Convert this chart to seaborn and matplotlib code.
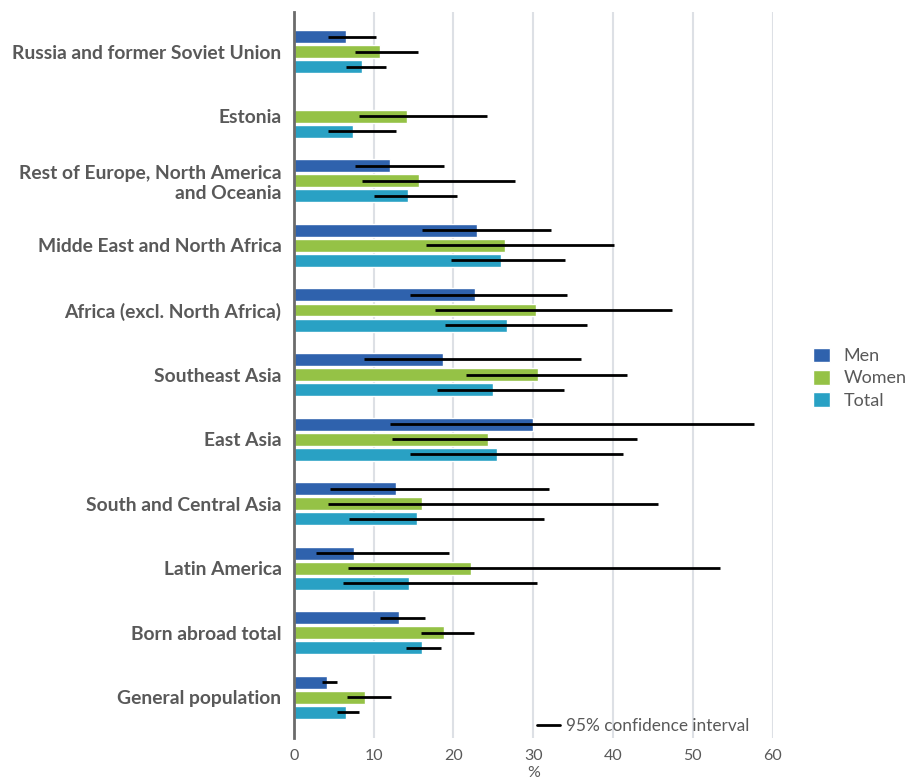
import numpy as np
import pandas as pd
import seaborn as sns
import matplotlib
matplotlib.use("Agg")
import matplotlib.pyplot as plt
from matplotlib.lines import Line2D

# Regions of birth (top to bottom)
regions = [
    "Russia and former Soviet Union",
    "Estonia",
    "Rest of Europe, North America\nand Oceania",
    "Midde East and North Africa",
    "Africa (excl. North Africa)",
    "Southeast Asia",
    "East Asia",
    "South and Central Asia",
    "Latin America",
    "Born abroad total",
    "General population",
]

series = ["Men", "Women", "Total"]

# Share (%) per group
men   = [6.5, np.nan, 12.0, 22.9, 22.7, 18.7, 30.0, 12.8, 7.5, 13.2, 4.1]
women = [10.8, 14.2, 15.7, 26.5, 30.4, 30.6, 24.3, 16.0, 22.2, 18.8, 8.9]
total = [8.5, 7.4, 14.3, 26.0, 26.7, 24.9, 25.4, 15.4, 14.4, 16.0, 6.5]

# 95% confidence interval bounds
men_lo   = [4.3, np.nan, 7.6, 16.0, 14.5, 8.8, 12.1, 4.5, 2.8, 10.8, 3.5]
men_hi   = [10.3, np.nan, 18.8, 32.2, 34.2, 36.0, 57.7, 32.0, 19.5, 16.4, 5.4]
women_lo = [7.6, 8.2, 8.5, 16.5, 17.7, 21.6, 12.3, 4.3, 6.8, 15.9, 6.7]
women_hi = [15.6, 24.2, 27.7, 40.1, 47.4, 41.8, 43.0, 45.6, 53.4, 22.6, 12.2]
total_lo = [6.5, 4.3, 10.0, 19.7, 18.9, 17.9, 14.5, 6.9, 6.2, 14.1, 5.4]
total_hi = [11.6, 12.8, 20.5, 34.0, 36.7, 33.9, 41.2, 31.3, 30.5, 18.4, 8.2]

values = {"Men": men, "Women": women, "Total": total}
lows = {"Men": men_lo, "Women": women_lo, "Total": total_lo}
highs = {"Men": men_hi, "Women": women_hi, "Total": total_hi}

colors = ["#2F62AD", "#95C246", "#29A1C4"]
text_gray = "#595959"

rows = []
for s in series:
    for r, v in zip(regions, values[s]):
        rows.append({"region": r, "group": s, "pct": v})
df = pd.DataFrame(rows)

sns.set_theme(style="white")
plt.rcParams["font.family"] = ["Lato", "DejaVu Sans"]

fig = plt.figure(figsize=(9.10, 7.81), dpi=100)
ax = fig.add_axes([0.323, 0.055, 0.526, 0.930])

sns.barplot(
    data=df, y="region", x="pct", hue="group", order=regions,
    hue_order=series, palette=colors, orient="h", width=0.7, gap=0.14,
    errorbar=None, ax=ax, legend=True, saturation=1,
)

# Confidence interval lines through the middle of each bar; the category
# index comes from the bar's own position (missing bars are not drawn)
for s, cont in zip(series, ax.containers):
    for patch in cont.patches:
        yc = patch.get_y() + patch.get_height() / 2
        i = int(round(yc))
        lo, hi = lows[s][i], highs[s][i]
        if np.isnan(lo):
            continue
        ax.hlines(yc, lo, hi, color="black", lw=2.0, zorder=4)

ax.set_xlim(0, 60)
ax.set_ylim(10.63, -0.62)
ax.set_xticks(range(0, 61, 10))
ax.xaxis.grid(True, color="#DDE0E5", lw=1.5)
ax.set_axisbelow(True)
for side in ["top", "right", "bottom"]:
    ax.spines[side].set_visible(False)
ax.spines["left"].set_color("#6B6B6B")
ax.spines["left"].set_linewidth(2)

ax.tick_params(axis="x", length=0, pad=8, labelsize=11.5, labelcolor=text_gray)
ax.tick_params(axis="y", length=0, pad=9)
for lbl in ax.get_yticklabels():
    lbl.set_fontweight("bold")
    lbl.set_fontsize(13.9)
    lbl.set_color(text_gray)
    lbl.set_horizontalalignment("right")
    lbl.set_multialignment("right")

ax.set_ylabel("")
ax.set_xlabel("%", fontsize=11.5, color=text_gray, labelpad=2)

handles, labels = ax.get_legend_handles_labels()
ax.legend(
    handles, labels, loc="center left", bbox_to_anchor=(0.886, 0.516),
    bbox_transform=fig.transFigure, frameon=False, fontsize=13.0,
    labelcolor=text_gray, handlelength=0.9, handleheight=0.9,
    handletextpad=0.75, labelspacing=0.3, borderaxespad=0,
)

ci_handle = Line2D([], [], color="black", lw=2)
fig.legend(
    [ci_handle], ["95% confidence interval"], loc="center left",
    bbox_to_anchor=(0.583, 0.070), frameon=False, fontsize=12.4,
    labelcolor=text_gray, handlelength=1.3, handletextpad=0.35, borderaxespad=0,
)

fig.savefig("out.png", dpi=100)
